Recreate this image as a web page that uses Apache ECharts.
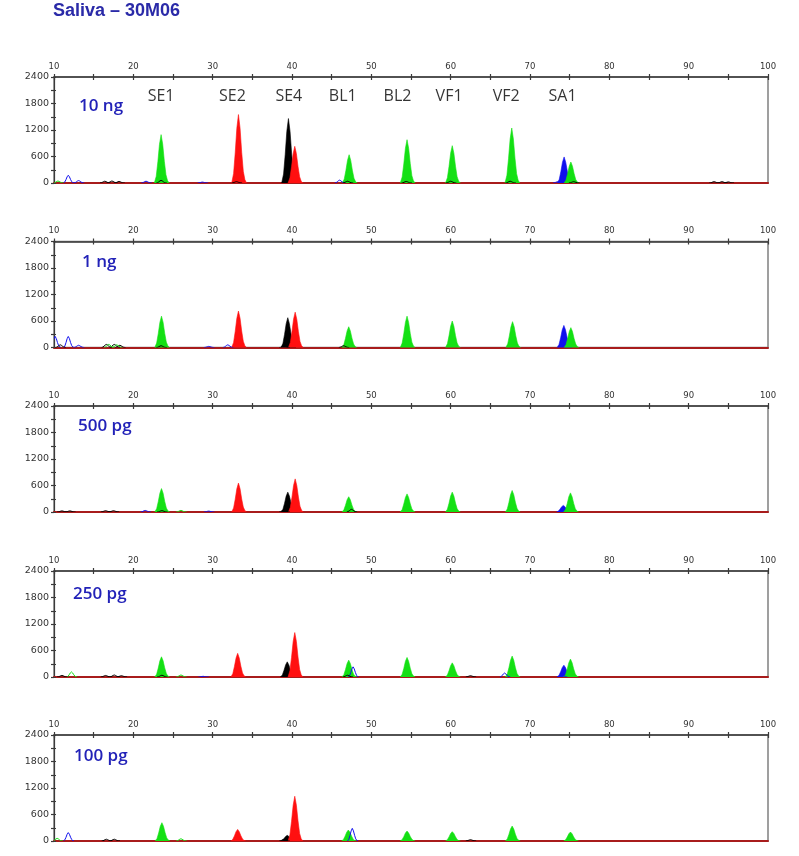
<!DOCTYPE html>
<html><head><meta charset="utf-8">
<script src="https://cdn.jsdelivr.net/npm/echarts@6/dist/echarts.min.js"></script>
<style>html,body{margin:0;padding:0;background:#fff}#c{width:799px;height:856px}</style>
</head><body><div id="c"></div>
<script>
// ---------------- DATA ----------------
const chartTitle = 'Saliva \u2013 30M06';
const panelLabels = ['10 ng', '1 ng', '500 pg', '250 pg', '100 pg'];
const locusNames = ['SE1', 'SE2', 'SE4', 'BL1', 'BL2', 'VF1', 'VF2', 'SA1'];
const locusPos = [23.5, 32.5, 39.6, 46.4, 53.3, 59.8, 67.0, 74.1];
const xRange = [10, 100];
const yTicks = [0, 600, 1200, 1800, 2400];

// filled peaks: [size, height]
const green_10ng = [[23.5, 1095], [47.2, 640], [54.5, 980], [60.2, 845], [67.7, 1245], [75.15, 475]];
const red_10ng = [[33.25, 1550], [40.35, 830]];
const black_10ng = [[39.55, 1460]];
const blue_10ng = [[74.3, 590]];

const green_1ng = [[23.55, 710], [47.15, 470], [54.5, 710], [60.2, 600], [67.8, 585], [75.15, 450]];
const red_1ng = [[33.25, 825], [40.4, 800]];
const black_1ng = [[39.47, 675]];
const blue_1ng = [[74.27, 500]];

const green_500pg = [[23.55, 530], [47.15, 345], [54.5, 410], [60.2, 450], [67.75, 487], [75.1, 433]];
const red_500pg = [[33.25, 655], [40.4, 750]];
const black_500pg = [[39.47, 450]];
const blue_500pg = [[74.2, 150]];

const green_250pg = [[23.55, 457], [47.15, 382], [54.5, 443], [60.2, 320], [67.75, 473], [75.1, 405]];
const red_250pg = [[33.15, 535], [40.35, 1006]];
const black_250pg = [[39.4, 343]];
const blue_250pg = [[74.27, 267]];

const green_100pg = [[23.6, 414], [47.1, 248], [54.5, 225], [60.2, 211], [67.75, 338], [75.1, 203]];
const red_100pg = [[33.15, 263], [40.35, 1013]];
const black_100pg = [[39.4, 128]];
const blue_100pg = [];

// unfilled trace bumps: [size, height, dye]
const trace_10ng = [[10.5, 45, 'g'], [11.8, 175, 'b'], [13.1, 55, 'b'], [21.6, 40, 'b'], [28.7, 20, 'b'], [46.0, 65, 'b'], [73.5, 30, 'b'],
  [16.4, 40, 'k'], [17.3, 45, 'k'], [18.2, 35, 'k'], [23.5, 60, 'k'], [33.0, 30, 'k'], [47.0, 40, 'k'], [54.4, 35, 'k'],
  [60.0, 40, 'k'], [67.5, 40, 'k'], [75.5, 30, 'k'], [93.2, 30, 'k'], [94.2, 30, 'k'], [95.0, 25, 'k']];
const trace_1ng = [[10.15, 250, 'b'], [11.8, 250, 'b'], [13.1, 50, 'b'], [29.5, 25, 'b'], [31.9, 60, 'b'],
  [10.8, 60, 'k'], [16.6, 70, 'k'], [17.6, 70, 'k'], [18.3, 50, 'k'], [23.5, 40, 'k'], [39.0, 40, 'k'], [46.5, 40, 'k'],
  [16.9, 70, 'g'], [17.9, 60, 'g']];
const trace_500pg = [[21.5, 35, 'b'], [29.5, 20, 'b'], [26.0, 35, 'g'],
  [11.0, 25, 'k'], [12.0, 25, 'k'], [16.5, 30, 'k'], [17.5, 30, 'k'], [23.6, 30, 'k'], [39.0, 50, 'k'], [47.5, 60, 'k']];
const trace_250pg = [[12.2, 115, 'g'], [26.0, 45, 'g'], [28.8, 15, 'b'], [47.7, 230, 'b'], [66.8, 90, 'b'], [74.0, 60, 'b'],
  [11.0, 35, 'k'], [16.5, 35, 'k'], [17.6, 45, 'k'], [18.5, 30, 'k'], [23.6, 40, 'k'], [47.0, 40, 'k'], [62.5, 30, 'k']];
const trace_100pg = [[11.8, 190, 'b'], [47.6, 286, 'b'], [10.4, 60, 'g'], [26.0, 50, 'g'],
  [16.6, 40, 'k'], [17.6, 40, 'k'], [39.0, 40, 'k'], [62.5, 30, 'k']];

// ---------------- BUILD ----------------
const panels = [
  { green: green_10ng, red: red_10ng, black: black_10ng, blue: blue_10ng, trace: trace_10ng },
  { green: green_1ng, red: red_1ng, black: black_1ng, blue: blue_1ng, trace: trace_1ng },
  { green: green_500pg, red: red_500pg, black: black_500pg, blue: blue_500pg, trace: trace_500pg },
  { green: green_250pg, red: red_250pg, black: black_250pg, blue: blue_250pg, trace: trace_250pg },
  { green: green_100pg, red: red_100pg, black: black_100pg, blue: blue_100pg, trace: trace_100pg }
];

const dyeColor = { g: '#14e014', r: '#ff1010', k: '#000000', b: '#1010ee' };
// peak outline template (relative offset, relative height) - a mark shape, like a bar's rectangle
const PROFILE = [[-1, 0], [-0.72, 0.14], [-0.48, 0.44], [-0.24, 0.8], [0, 1], [0.24, 0.8], [0.48, 0.45], [0.72, 0.17], [0.95, 0.05], [1.2, 0]];

const gridTop = [77, 241.5, 406, 571, 735];
const gridH = 106;
const labelLeft = [79, 82, 78, 73, 74];
const labelCy = [106, 262, 426.5, 594, 756];

function peakRender(getColor, filled, hw) {
  return function (params, api) {
    const c = api.value(0), h = api.value(1);
    const pts = PROFILE.map(p => api.coord([c + p[0] * hw, h * p[1]]));
    const cs = params.coordSys;
    const color = getColor(params.dataIndex);
    return {
      type: filled ? 'polygon' : 'polyline',
      shape: { points: pts },
      style: filled ? { fill: color, stroke: color, lineWidth: 0.6 } : { fill: null, stroke: color, lineWidth: 1 },
      clipPath: { type: 'rect', shape: { x: cs.x, y: cs.y - 2, width: cs.width, height: cs.height + 2 } }
    };
  };
}

const grids = [], xAxes = [], yAxes = [], series = [];
const tickFont = { fontFamily: 'DejaVu Sans', color: '#333' };

panels.forEach((p, i) => {
  grids.push({ left: 54, right: 31, top: gridTop[i], height: gridH, show: true, borderColor: '#808080', borderWidth: 1.5, backgroundColor: 'transparent' });
  xAxes.push({ gridIndex: i, type: 'value', position: 'top', min: xRange[0], max: xRange[1], interval: 10,
    axisLine: { onZero: false, lineStyle: { color: '#3a3a3a', width: 1.5 } },
    axisTick: { show: true, length: 3, lineStyle: { color: '#3a3a3a', width: 1.2 } },
    minorTick: { show: true, splitNumber: 2, length: 3, lineStyle: { color: '#3a3a3a', width: 1.2 } },
    axisLabel: Object.assign({ show: true, fontSize: 8.5, margin: 6, showMinLabel: true, showMaxLabel: true, formatter: v => String(v) }, tickFont),
    splitLine: { show: false } });
  xAxes.push({ gridIndex: i, type: 'value', position: 'top', min: xRange[0], max: xRange[1], interval: 10,
    axisLine: { show: false, onZero: false },
    axisTick: { show: true, inside: true, length: 3, lineStyle: { color: '#3a3a3a', width: 1.2 } },
    minorTick: { show: true, splitNumber: 2, length: 3, lineStyle: { color: '#3a3a3a', width: 1.2 } },
    axisLabel: { show: false }, splitLine: { show: false } });
  xAxes.push({ gridIndex: i, type: 'value', position: 'bottom', min: xRange[0], max: xRange[1],
    axisLine: { show: true, onZero: false, lineStyle: { color: '#a81c1c', width: 2 } },
    axisTick: { show: false }, axisLabel: { show: false }, splitLine: { show: false } });
  yAxes.push({ gridIndex: i, type: 'value', position: 'left', min: yTicks[0], max: yTicks[yTicks.length - 1], interval: yTicks[1] - yTicks[0],
    axisLine: { show: true, onZero: false, lineStyle: { color: '#3a3a3a', width: 1.2 } },
    axisTick: { show: true, length: 3, lineStyle: { color: '#3a3a3a', width: 1.2 } },
    minorTick: { show: true, splitNumber: 2, length: 3, lineStyle: { color: '#3a3a3a', width: 1.2 } },
    axisLabel: Object.assign({ show: true, fontSize: 9.5, margin: 5, formatter: v => String(v) }, tickFont),
    splitLine: { show: false } });
  yAxes.push({ gridIndex: i, type: 'value', position: 'left', min: yTicks[0], max: yTicks[yTicks.length - 1], interval: yTicks[1] - yTicks[0],
    axisLine: { show: false, onZero: false },
    axisTick: { show: true, inside: true, length: 2, lineStyle: { color: '#3a3a3a', width: 1.2 } },
    minorTick: { show: true, splitNumber: 2, length: 2, lineStyle: { color: '#3a3a3a', width: 1.2 } },
    axisLabel: { show: false }, splitLine: { show: false } });

  const order = [['blue', 'b'], ['black', 'k'], ['green', 'g'], ['red', 'r']];
  order.forEach(([key, code]) => {
    series.push({ type: 'custom', name: key + i, xAxisIndex: i * 3, yAxisIndex: i * 2, z: 3,
      renderItem: peakRender(() => dyeColor[code], true, 0.85), data: p[key], encode: { x: 0, y: 1 }, silent: true, animation: false });
  });
  const tr = p.trace;
  series.push({ type: 'custom', name: 'trace' + i, xAxisIndex: i * 3, yAxisIndex: i * 2, z: 4,
    renderItem: peakRender(idx => dyeColor[tr[idx][2]], false, 0.6),
    data: tr.map(t => [t[0], t[1]]), encode: { x: 0, y: 1 }, silent: true, animation: false });
});

series.push({ type: 'scatter', xAxisIndex: 0, yAxisIndex: 0, symbolSize: 1, itemStyle: { color: 'rgba(0,0,0,0)' }, silent: true, animation: false,
  data: locusNames.map((n, k) => ({ name: n, value: [locusPos[k], 1950] })),
  label: { show: true, position: 'inside', formatter: '{b}', fontFamily: 'Open Sans', fontWeight: 500, fontSize: 16, color: '#000' } });

const graphics = [{ type: 'text', x: 53, y: 11, style: { text: chartTitle, font: 'bold 18px "Liberation Sans"', fill: '#2a2aa8', textVerticalAlign: 'middle' } }];
panelLabels.forEach((t, i) => {
  graphics.push({ type: 'text', x: labelLeft[i], y: labelCy[i], style: { text: t, font: '600 17px "Open Sans"', fill: '#2222b8', textVerticalAlign: 'middle' } });
});

const chart = echarts.init(document.getElementById('c'), null, { renderer: 'canvas' });
chart.setOption({ animation: false, backgroundColor: '#fff', grid: grids, xAxis: xAxes, yAxis: yAxes, series: series, graphic: graphics });
</script></body></html>
